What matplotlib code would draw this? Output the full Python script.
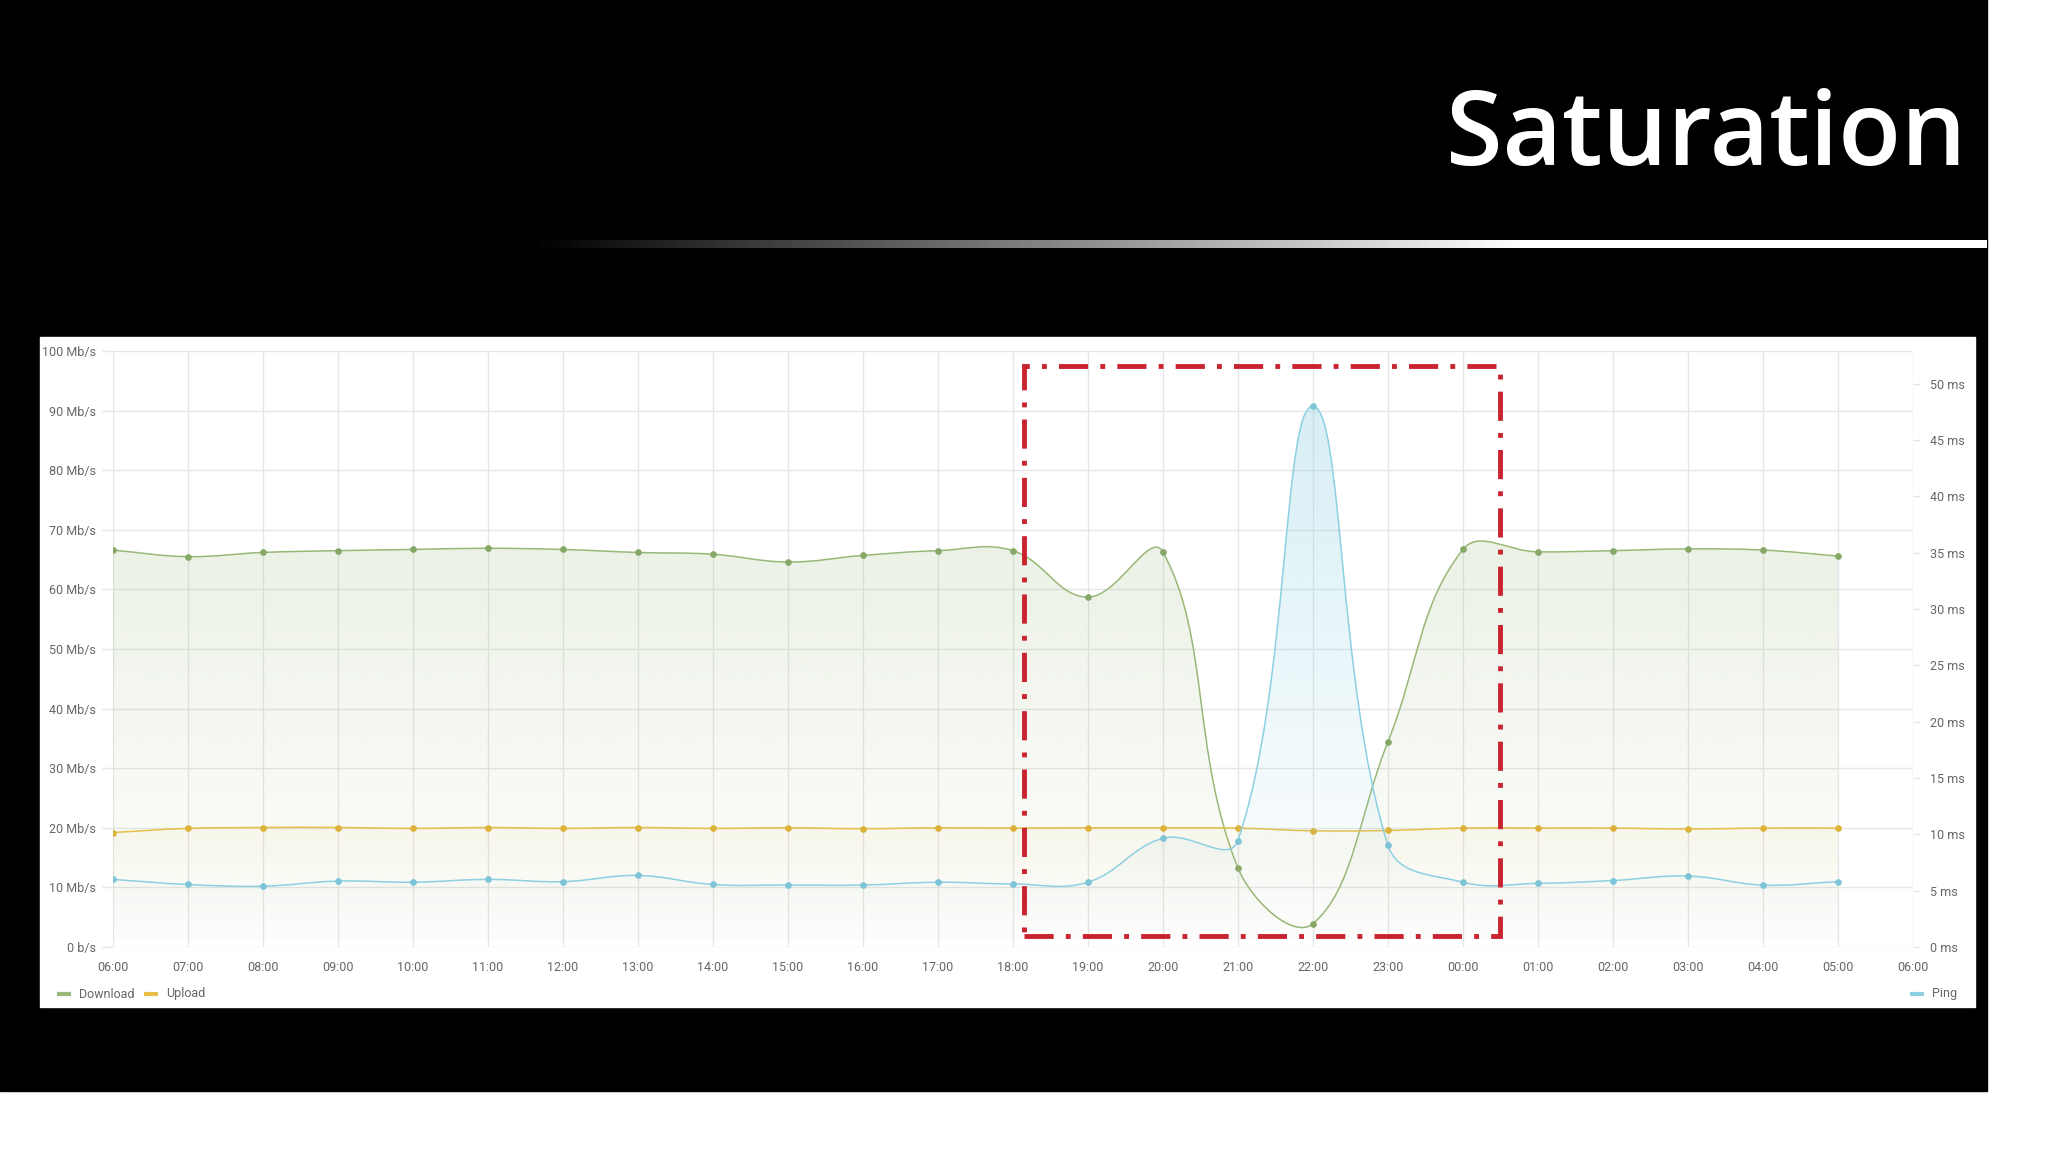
import matplotlib.pyplot as plt
import numpy as np
from matplotlib.path import Path
from matplotlib.patches import PathPatch, Rectangle

plt.rcParams['font.family'] = ['Roboto', 'DejaVu Sans']

hours = ["06:00", "07:00", "08:00", "09:00", "10:00", "11:00", "12:00", "13:00",
         "14:00", "15:00", "16:00", "17:00", "18:00", "19:00", "20:00", "21:00",
         "22:00", "23:00", "00:00", "01:00", "02:00", "03:00", "04:00", "05:00"]
axis_hours = hours + ["06:00"]

download = [66.6, 65.5, 66.2, 66.5, 66.7, 66.9, 66.7, 66.2, 65.9, 64.6, 65.7, 66.5,
            66.5, 58.7, 66.3, 13.3, 3.9, 34.4, 66.7, 66.3, 66.5, 66.8, 66.6, 65.6]
upload = [19.2, 19.9, 20.05, 20.05, 19.9, 20.05, 19.9, 20.05, 19.9, 20.0, 19.85, 20.0,
          19.95, 20.0, 20.0, 19.95, 19.5, 19.55, 19.95, 19.95, 19.95, 19.8, 19.95, 19.95]
ping = [6.0, 5.55, 5.4, 5.85, 5.75, 6.0, 5.8, 6.35, 5.55, 5.5, 5.5, 5.75,
        5.6, 5.75, 9.65, 9.45, 48.0, 9.05, 5.75, 5.65, 5.9, 6.3, 5.5, 5.8]

speed_ticks = [0, 10, 20, 30, 40, 50, 60, 70, 80, 90, 100]
speed_labels = ["0 b/s"] + [f"{v} Mb/s" for v in speed_ticks[1:]]
ping_ticks = [0, 5, 10, 15, 20, 25, 30, 35, 40, 45, 50]
ping_labels = [f"{v} ms" for v in ping_ticks]
ping_max = 52.9

# highlighted window (hours after 06:00, Mb/s)
box_start, box_end = 12.15, 18.49
box_low, box_high = 1.85, 97.4

c_down, m_down = "#98b878", "#86a866"
c_up, m_up = "#e6be48", "#dcb23a"
c_ping, m_ping = "#8dd0e2", "#7cc4d8"
c_text = "#666666"
c_grid = "#e6e6e6"


def spline(ax, xs, ys, ymax, tension=0.4):
    # chart.js style bezier, computed in pixel space
    p0 = ax.transData.transform((0, 0))
    p1 = ax.transData.transform((1, 1))
    sx, sy = p1 - p0
    X = np.asarray(xs, float) * sx
    Y = np.asarray(ys, float) * sy
    n = len(X)
    cin, cout = [], []
    for i in range(n):
        a, b = max(i - 1, 0), min(i + 1, n - 1)
        d01 = np.hypot(X[i] - X[a], Y[i] - Y[a])
        d12 = np.hypot(X[b] - X[i], Y[b] - Y[i])
        tot = d01 + d12
        s01 = d01 / tot if tot else 0
        s12 = d12 / tot if tot else 0
        dx, dy = X[b] - X[a], Y[b] - Y[a]
        cin.append((X[i] - tension * s01 * dx, Y[i] - tension * s01 * dy))
        cout.append((X[i] + tension * s12 * dx, Y[i] + tension * s12 * dy))
    verts = [(X[0], Y[0])]
    codes = [Path.MOVETO]
    for i in range(1, n):
        verts += [cout[i - 1], cin[i], (X[i], Y[i])]
        codes += [Path.CURVE4] * 3
    verts = np.array(verts) / [sx, sy]
    verts[:, 1] = np.clip(verts[:, 1], 0, ymax)
    return verts, codes


def draw_series(ax, xs, ys, color, mcolor, ymax, alpha_top, zorder):
    verts, codes = spline(ax, xs, ys, ymax)
    area_v = np.vstack([verts, [[xs[-1], 0], [xs[0], 0], [xs[0], 0]]])
    area_c = codes + [Path.LINETO, Path.LINETO, Path.CLOSEPOLY]
    clip = PathPatch(Path(area_v, area_c), facecolor="none", edgecolor="none",
                     transform=ax.transData)
    ax.add_patch(clip)
    rgb = np.array(plt.matplotlib.colors.to_rgb(color))
    grad = np.zeros((256, 1, 4))
    grad[:, 0, :3] = rgb
    grad[:, 0, 3] = alpha_top * np.linspace(1, 0, 256)
    im = ax.imshow(grad, extent=[0, 24, 0, ymax], aspect="auto", zorder=zorder,
                   interpolation="bilinear")
    im.set_clip_path(clip)
    ax.add_patch(PathPatch(Path(verts, codes), facecolor="none", edgecolor=color,
                           lw=1.1, zorder=zorder + 1))
    ax.plot(xs, ys, "o", ms=3.8, color=mcolor, zorder=zorder + 2)


fig = plt.figure(figsize=(20.48, 11.52), dpi=100, facecolor="white")

bg = fig.add_axes([0, 0, 1, 1])
bg.axis("off")
bg.add_patch(Rectangle((0, 0), 1987, 1091, color="black", zorder=0))
bg.add_patch(Rectangle((40, 337), 1935, 670, color="white", zorder=0))
gx = np.linspace(529, 1987, 600)
fade = np.clip((gx - 529) / (1527 - 529), 0, 1)[None, :]
bg.imshow(fade, cmap="gray", vmin=0, vmax=1, extent=[529, 1987, 248, 240],
          aspect="auto", zorder=3)
bg.set_xlim(0, 2048)
bg.set_ylim(1152, 0)
bg.text(1966, 165, "Saturation", ha="right", va="baseline", color="white",
        fontsize=74, family=["Open Sans", "DejaVu Sans"], weight="semibold")

for x0, label, color in [(57, "Download", c_down), (144, "Upload", c_up), (1910, "Ping", c_ping)]:
    bg.plot([x0, x0 + 14], [994, 994], color=color, lw=3, solid_capstyle="butt")
    bg.text(x0 + 22, 994, label, va="center", ha="left", fontsize=9, color=c_text)

ax = fig.add_axes([112.6 / 2048, (1152 - 947) / 1152, 1800.4 / 2048, 596 / 1152])
ax.set_xlim(0, 24)
ax.set_ylim(0, 100)
ax2 = ax.twinx()
ax2.set_ylim(0, ping_max)

x = np.arange(len(hours))
draw_series(ax, x, download, c_down, m_down, 100, 0.28, 2)
draw_series(ax, x, upload, c_up, m_up, 100, 0.35, 5)
draw_series(ax2, x, ping, c_ping, m_ping, ping_max, 0.38, 2)
ax.set_xlim(0, 24)
ax.set_ylim(0, 100)
ax2.set_xlim(0, 24)
ax2.set_ylim(0, ping_max)

ax.set_axisbelow(True)
ax.grid(True, color=c_grid, lw=1)
ax.set_xticks(np.arange(len(axis_hours)))
ax.set_xticklabels(axis_hours)
ax.set_yticks(speed_ticks)
ax.set_yticklabels(speed_labels)
ax.tick_params(axis="x", length=0, pad=10, labelsize=9, labelcolor=c_text)
ax.tick_params(axis="y", length=8, width=1, color=c_grid, pad=4, labelsize=9, labelcolor=c_text)
ax2.set_yticks(ping_ticks)
ax2.set_yticklabels(ping_labels)
ax2.tick_params(axis="y", length=5, width=1, color=c_grid, pad=7, labelsize=9, labelcolor=c_text)
for a in (ax, ax2):
    for s in a.spines.values():
        s.set_visible(False)

ax2.add_patch(Rectangle((box_start, box_low), box_end - box_start, box_high - box_low,
                        transform=ax.transData, fill=False, edgecolor="#c8232f", lw=3.5,
                        linestyle=(0, (6, 2.5, 1, 2.5)), zorder=10, clip_on=False))

fig.savefig("out.png", dpi=100, facecolor="white")
